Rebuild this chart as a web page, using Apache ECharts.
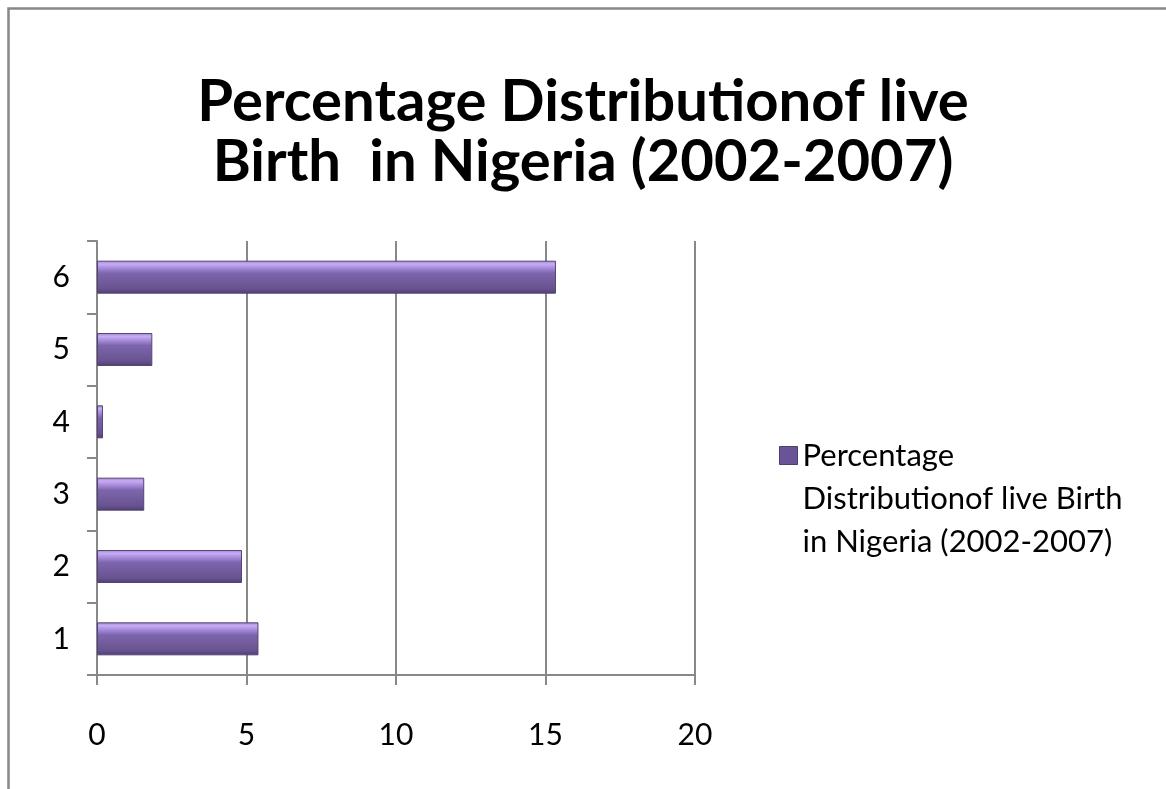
<!DOCTYPE html>
<html>
<head>
<meta charset="utf-8">
<script src="https://cdn.jsdelivr.net/npm/echarts@6/dist/echarts.min.js"></script>
<style>html,body{margin:0;padding:0;background:#fff}#c{width:1166px;height:789px}</style>
</head>
<body>
<div id="c"></div>
<script>
const titleText = 'Percentage Distributionof live\nBirth  in Nigeria (2002-2007)';
const seriesName = 'Percentage Distributionof live Birth in Nigeria (2002-2007)';
const legendLines = 'Percentage\nDistributionof live Birth\nin Nigeria (2002-2007)';
const categories = ['1', '2', '3', '4', '5', '6'];
const values = [5.4, 4.85, 1.58, 0.2, 1.85, 15.35];
const xTicks = [0, 5, 10, 15, 20];

const chart = echarts.init(document.getElementById('c'), null, {renderer: 'canvas'});
const barGrad = new echarts.graphic.LinearGradient(0, 0, 0, 1, [
  {offset: 0, color: '#9a84c6'},
  {offset: 0.1, color: '#c7acf6'},
  {offset: 0.22, color: '#a98ddc'},
  {offset: 0.38, color: '#7d65ad'},
  {offset: 0.85, color: '#68538f'},
  {offset: 1, color: '#4d3e70'}
]);
const font = 'Lato, "Open Sans", sans-serif';
// legend icon: square at top, invisible point below so the square sits on the first text line
const legendIcon = 'path://M0,0L18,0L18,18L0,18Z M0,104L0.01,104L0,104Z';
chart.setOption({
  backgroundColor: '#fff',
  animation: false,
  textStyle: {fontFamily: font},
  title: {
    text: titleText,
    left: 'center',
    top: 67,
    textStyle: {fontFamily: font, fontSize: 58, fontWeight: 'bold', color: '#000', lineHeight: 60}
  },
  graphic: [{
    type: 'rect',
    shape: {x: 8.5, y: 8.5, width: 1300, height: 1000},
    style: {fill: 'none', stroke: '#888', lineWidth: 2.5},
    silent: true
  }],
  legend: {
    left: 774,
    top: 429,
    orient: 'vertical',
    itemWidth: 18,
    itemHeight: 104,
    itemGap: 10,
    selectedMode: false,
    formatter: function () { return legendLines; },
    textStyle: {fontFamily: font, fontSize: 31, color: '#000', lineHeight: 43},
    data: [{name: seriesName, icon: legendIcon, itemStyle: {color: '#6a5498', borderColor: '#4d3e70', borderWidth: 1}}]
  },
  grid: {left: 97, right: 471, top: 241, bottom: 114, containLabel: false},
  xAxis: {
    type: 'value',
    min: xTicks[0],
    max: xTicks[xTicks.length - 1],
    interval: xTicks[1] - xTicks[0],
    axisLine: {show: true, lineStyle: {color: '#888', width: 2}},
    axisTick: {show: true, length: 10, lineStyle: {color: '#888', width: 2}},
    splitLine: {show: true, lineStyle: {color: '#888', width: 2}},
    axisLabel: {fontSize: 30, color: '#000', margin: 45, fontFamily: font}
  },
  yAxis: {
    type: 'category',
    data: categories,
    axisLine: {show: true, lineStyle: {color: '#888', width: 2}},
    axisTick: {show: true, length: 10, alignWithLabel: false, lineStyle: {color: '#888', width: 2}},
    axisLabel: {fontSize: 30, color: '#000', margin: 27, fontFamily: font},
    splitLine: {show: false}
  },
  series: [{
    name: seriesName,
    type: 'bar',
    data: values,
    barWidth: 33,
    itemStyle: {color: barGrad, borderColor: '#544478', borderWidth: 1}
  }]
});
</script>
</body>
</html>
